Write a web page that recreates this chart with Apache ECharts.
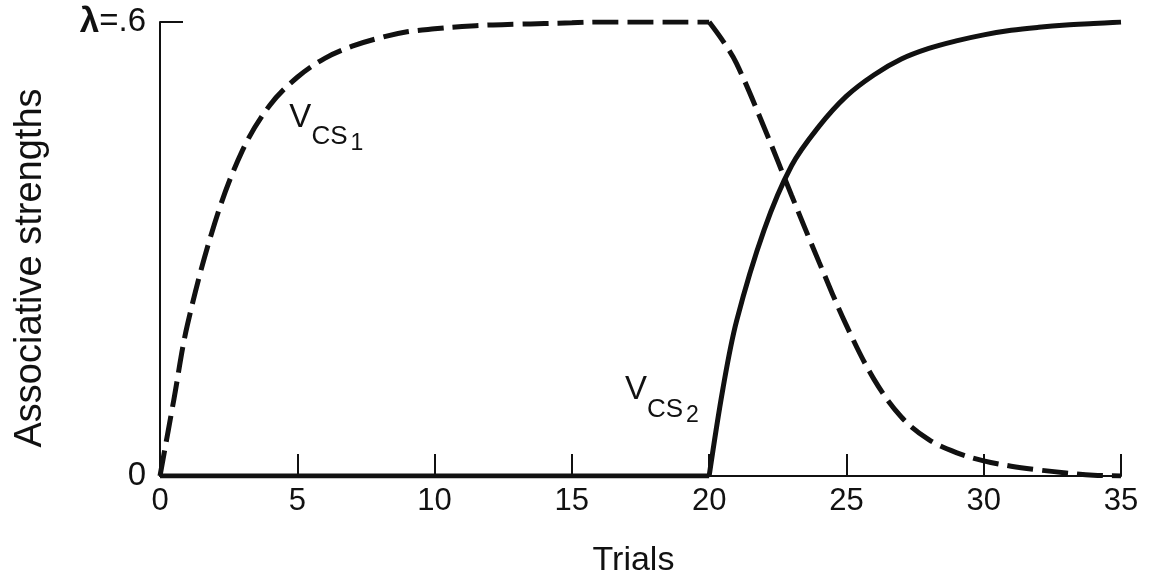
<!DOCTYPE html>
<html>
<head>
<meta charset="utf-8">
<script src="https://cdn.jsdelivr.net/npm/echarts@6/dist/echarts.min.js"></script>
<style>
  html, body { margin: 0; background: #fff; }
  #chart { width: 1151px; height: 577px; }
</style>
</head>
<body>
<div id="chart"></div>
<script>
// ---- data (trial -> associative strength) ----
const acqTrials = [0, 0.5, 1, 2, 3, 4, 5, 6, 7, 8, 9, 10, 11, 12, 13, 14, 15, 16, 17, 18, 19, 20];
const vcs1Acq = [0, 0.10, 0.2, 0.335, 0.43, 0.49, 0.527, 0.552, 0.568, 0.579, 0.587, 0.591,
                 0.594, 0.596, 0.597, 0.598, 0.599, 0.6, 0.6, 0.6, 0.6, 0.6];

const flatTrials = [0, 20];
const vcs2Flat = [0, 0];

const extTrials = [20, 20.5, 21, 22, 23, 24, 25, 26, 27, 28, 29, 30, 31, 32, 33, 34, 35];
const vcs1Ext = [0.6, 0.575, 0.545, 0.461, 0.371, 0.283, 0.199, 0.128, 0.078, 0.048, 0.031,
                 0.02, 0.013, 0.008, 0.004, 0.001, 0];
const vcs2Ext = [0, 0.115, 0.205, 0.325, 0.41, 0.462, 0.502, 0.53, 0.551, 0.565, 0.575,
                 0.583, 0.589, 0.593, 0.596, 0.598, 0.6];

const xTicks = [0, 5, 10, 15, 20, 25, 30, 35];
const yLabels = { 0: '0', 0.6: '{l|λ}=.6' };

// label anchors (top-left of text, data units)
const vcs1LabelPos = [4.73, 0.495];
const vcs2LabelPos = [16.95, 0.135];

// ---- helpers ----
const FONT = "'Liberation Sans', Arial, sans-serif";
const pairs = (xs, ys) => xs.map((x, i) => [x, ys[i]]);

const subLabel = (pos, digit) => ({
  symbol: 'circle',
  symbolSize: 1,
  silent: true,
  itemStyle: { color: 'rgba(0,0,0,0)' },
  label: {
    show: true,
    position: [0, 0],
    align: 'left',
    verticalAlign: 'top',
    fontFamily: FONT,
    color: '#111',
    formatter: '{v|V}{cs|CS}{n|' + digit + '}',
    rich: {
      v: { fontSize: 33, lineHeight: 34, verticalAlign: 'top', fontFamily: FONT, color: '#111' },
      cs: { fontSize: 26, lineHeight: 26, padding: [23, 0, 0, 0], verticalAlign: 'top', fontFamily: FONT, color: '#111' },
      n: { fontSize: 23, lineHeight: 23, padding: [31, 0, 0, 3], verticalAlign: 'top', fontFamily: FONT, color: '#111' }
    }
  },
  data: [{ coord: pos }]
});

const lineBase = {
  type: 'line',
  showSymbol: false,
  silent: true,
  smooth: 0.35,
  color: '#111'
};

const chart = echarts.init(document.getElementById('chart'));

chart.setOption({
  animation: false,
  backgroundColor: '#fff',
  textStyle: { fontFamily: FONT },
  grid: { left: 160, right: 30, top: 22, bottom: 101, outerBoundsMode: 'none' },
  xAxis: {
    type: 'value',
    min: 0,
    max: 35,
    interval: 5,
    name: 'Trials',
    nameLocation: 'middle',
    nameGap: 68,
    nameTextStyle: { fontSize: 34, color: '#111', fontFamily: FONT, padding: [0, 14, 0, 0] },
    axisLine: { lineStyle: { color: '#111', width: 2 } },
    axisTick: { inside: true, length: 22, lineStyle: { color: '#111', width: 2 } },
    axisLabel: {
      margin: 10,
      fontSize: 31,
      color: '#111',
      fontFamily: FONT,
      formatter: v => (xTicks.includes(v) ? String(v) : '')
    },
    splitLine: { show: false }
  },
  yAxis: {
    type: 'value',
    min: 0,
    max: 0.6,
    interval: 0.6,
    name: 'Associative strengths',
    nameLocation: 'middle',
    nameGap: 110,
    nameTextStyle: { fontSize: 38, color: '#111', fontFamily: FONT, padding: [0, 38, 0, 0] },
    axisLine: { show: true, lineStyle: { color: '#111', width: 2 } },
    axisTick: { show: true, inside: true, length: 23, lineStyle: { color: '#111', width: 2 } },
    axisLabel: {
      margin: 14,
      fontSize: 33,
      color: '#111',
      fontFamily: FONT,
      formatter: v => yLabels[v] || '',
      rich: { l: { fontSize: 35, fontWeight: 'bold', fontFamily: FONT, color: '#111' } }
    },
    splitLine: { show: false }
  },
  series: [
    {
      ...lineBase,
      name: 'VCS1',
      data: pairs(acqTrials, vcs1Acq),
      lineStyle: { color: '#111', width: 5, type: [26, 9], cap: 'butt' },
      markPoint: subLabel(vcs1LabelPos, '1')
    },
    {
      ...lineBase,
      name: 'VCS1 ext',
      data: pairs(extTrials, vcs1Ext),
      lineStyle: { color: '#111', width: 5, type: [26, 9], cap: 'butt' }
    },
    {
      ...lineBase,
      name: 'VCS2 flat',
      smooth: false,
      data: pairs(flatTrials, vcs2Flat),
      lineStyle: { color: '#111', width: 5 }
    },
    {
      ...lineBase,
      name: 'VCS2',
      data: pairs(extTrials, vcs2Ext),
      lineStyle: { color: '#111', width: 5 },
      markPoint: subLabel(vcs2LabelPos, '2')
    }
  ]
});
</script>
</body>
</html>
